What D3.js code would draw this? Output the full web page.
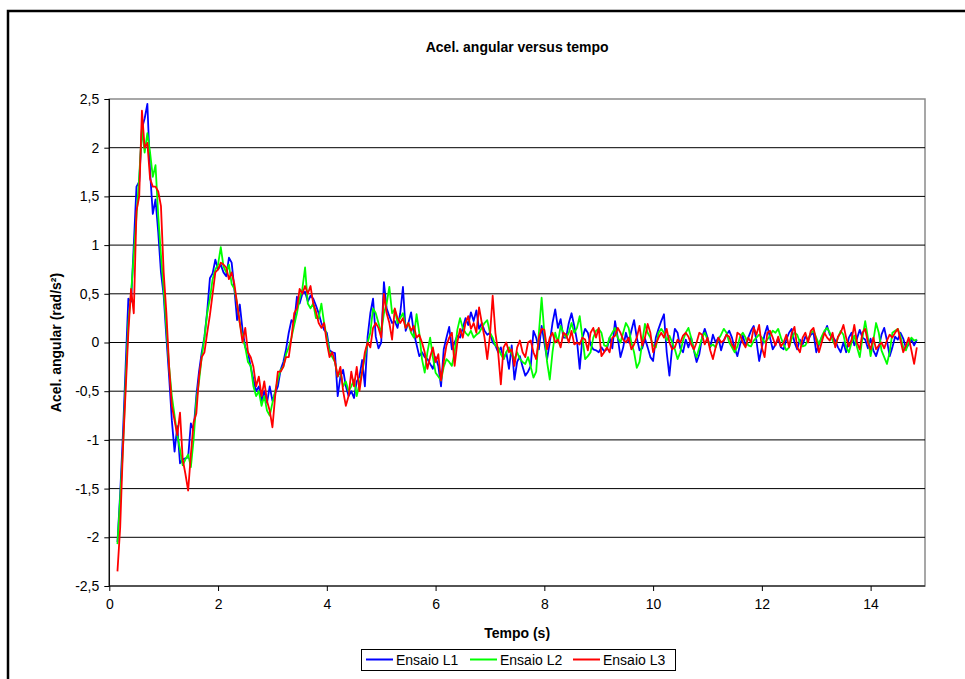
<!DOCTYPE html>
<html><head><meta charset="utf-8">
<script src="https://cdn.jsdelivr.net/npm/d3@7"></script>
<style>
body{margin:0;background:#fff}
text{font-family:Arial,"Liberation Sans",sans-serif;fill:#000}
</style>
</head><body>
<svg id="chart" width="965" height="679"></svg>
<script>
const chartTitle = "Acel. angular versus tempo";
const xAxisLabel = "Tempo (s)";
const yAxisLabel = "Acel. angular (rad/s²)";
const seriesNames = ["Ensaio L1", "Ensaio L2", "Ensaio L3"];
const xTickValues = [0, 2, 4, 6, 8, 10, 12, 14];
const yTickValues = [-2.5, -2, -1.5, -1, -0.5, 0, 0.5, 1, 1.5, 2, 2.5];
const yTickLabels = ["-2,5", "-2", "-1,5", "-1", "-0,5", "0", "0,5", "1", "1,5", "2", "2,5"];
const startTime = 0.15;   // s, first sample
const timeStep = 0.05;    // s, sampling interval

const ensaioL1 = [
-2.05,-1.55,-0.95,-0.25,0.45,0.42,1.0,1.6,1.65,2.2,2.3,2.45,1.75,1.32,1.47,1.13,0.72,0.48,0.05,-0.35,
-0.8,-1.12,-0.86,-1.24,-1.2,-1.19,-1.18,-0.83,-0.9,-0.55,-0.3,-0.1,0.06,0.32,0.66,0.71,0.85,0.75,0.8,0.72,
0.68,0.87,0.82,0.55,0.23,0.39,0.13,-0.05,-0.1,-0.25,-0.38,-0.5,-0.45,-0.6,-0.5,-0.62,-0.45,-0.6,-0.52,-0.45,
-0.28,-0.2,-0.07,0.1,0.23,0.2,0.47,0.4,0.5,0.52,0.42,0.48,0.45,0.38,0.3,0.2,0.13,0.1,-0.08,-0.1,
-0.11,-0.55,-0.35,-0.28,-0.45,-0.55,-0.5,-0.57,-0.4,-0.35,-0.18,-0.45,0.06,0.3,0.45,0.06,-0.06,0.0,0.62,0.35,
0.27,0.2,0.22,0.15,0.3,0.57,0.12,0.2,0.31,0.1,-0.02,-0.14,-0.1,-0.15,-0.17,-0.22,-0.27,-0.15,-0.24,-0.45,
-0.07,0.05,0.16,-0.07,0.0,0.07,0.05,0.15,0.25,0.18,0.31,0.22,0.33,0.14,0.2,0.12,0.08,0.1,0.0,-0.03,
-0.1,-0.05,-0.17,-0.1,-0.27,-0.03,-0.38,-0.2,-0.14,-0.25,-0.34,-0.3,-0.24,0.12,0.05,-0.07,0.17,0.0,-0.17,0.0,
0.2,0.34,0.15,0.24,0.05,0.05,0.2,0.3,0.17,0.02,-0.27,0.05,0.14,0.1,-0.02,-0.07,-0.08,-0.1,-0.05,-0.09,
-0.07,0.05,-0.06,0.22,0.05,-0.15,-0.05,0.1,0.0,0.12,0.23,0.05,-0.08,-0.06,0.04,-0.05,-0.15,-0.19,0.05,0.14,
0.22,0.29,-0.1,-0.34,-0.05,0.14,0.1,-0.06,-0.1,0.03,-0.05,0.05,-0.08,-0.2,-0.12,0.05,0.14,0.05,-0.05,0.08,
0.0,0.05,-0.08,0.02,0.08,0.12,0.05,-0.06,-0.14,-0.02,0.07,-0.03,0.05,0.12,0.17,0.02,-0.19,-0.05,0.08,0.17,
0.05,-0.07,-0.02,0.04,-0.05,-0.07,0.03,0.1,0.14,0.0,-0.07,0.03,-0.02,0.06,0.03,0.08,0.1,-0.1,-0.02,0.05,
0.1,0.17,0.08,0.06,0.02,-0.05,-0.1,0.0,-0.1,0.05,0.1,-0.03,0.04,0.13,0.05,0.03,-0.06,0.04,-0.08,-0.14,
-0.05,0.08,0.15,0.02,-0.14,-0.05,0.06,0.03,0.1,0.04,-0.06,-0.02,0.03,-0.03,0.03
];

const ensaioL2 = [
-2.07,-1.6,-1.1,-0.4,0.2,0.5,0.9,1.3,1.7,2.2,1.95,2.15,1.95,1.7,1.82,1.3,0.9,0.55,0.15,-0.25,
-0.55,-0.75,-0.95,-1.1,-1.26,-1.2,-1.15,-1.28,-1.0,-0.6,-0.4,-0.15,0.05,0.3,0.45,0.65,0.75,0.8,0.98,0.78,
0.72,0.8,0.6,0.55,0.4,0.2,0.05,-0.05,-0.2,-0.24,-0.45,-0.55,-0.5,-0.65,-0.55,-0.7,-0.75,-0.62,-0.5,-0.38,
-0.28,-0.25,-0.12,-0.05,0.05,0.18,0.3,0.45,0.55,0.77,0.4,0.35,0.4,0.25,0.25,0.4,0.2,0.05,-0.1,-0.15,
-0.2,-0.35,-0.3,-0.45,-0.4,-0.5,-0.45,-0.38,-0.55,-0.42,-0.3,-0.15,0.0,0.1,0.35,0.3,0.2,0.1,0.3,0.4,
0.57,0.3,0.34,0.2,0.25,0.3,0.15,0.2,0.1,0.05,0.29,0.1,-0.17,-0.31,-0.1,0.05,-0.15,-0.31,-0.35,-0.39,
-0.25,-0.17,-0.2,-0.24,-0.1,0.13,0.25,0.15,0.1,0.07,0.12,0.05,0.08,0.1,0.15,0.2,0.23,0.1,0.05,-0.03,
-0.05,-0.12,-0.17,-0.1,-0.05,-0.12,-0.17,-0.1,-0.17,-0.2,-0.22,-0.15,-0.25,-0.36,-0.3,0.1,0.46,0.1,-0.2,-0.38,
-0.1,0.1,0.0,0.17,0.1,0.05,0.1,0.2,0.1,0.15,0.27,0.05,-0.17,-0.14,-0.1,0.05,0.12,0.14,0.1,-0.03,
-0.04,0.05,0.1,0.15,0.05,0.0,0.1,0.2,0.15,0.0,-0.1,-0.26,-0.2,0.0,0.19,0.1,0.05,-0.03,-0.05,0.1,
0.14,0.1,0.02,0.07,0.0,-0.07,-0.17,-0.1,0.02,0.1,0.15,0.05,-0.08,-0.15,-0.05,0.05,0.1,0.03,-0.04,-0.02,
-0.05,0.03,0.08,0.14,0.1,0.0,-0.05,-0.1,-0.04,0.06,0.1,0.05,-0.03,-0.04,0.02,0.05,0.08,0.05,0.0,0.03,
0.07,0.12,0.1,0.14,0.05,-0.02,-0.08,-0.05,0.04,0.1,0.08,0.0,-0.04,-0.03,0.03,0.1,0.12,0.05,-0.02,0.06,
0.12,0.15,0.1,0.02,-0.03,0.05,0.12,0.08,-0.05,-0.1,0.0,0.07,-0.05,-0.15,0.05,0.22,0.05,-0.14,0.02,0.2,
0.1,-0.08,-0.15,-0.22,-0.1,0.1,0.12,0.14,0.06,-0.05,-0.08,0.0,0.05,0.02,0.03
];

const ensaioL3 = [
-2.35,-1.9,-1.1,-0.5,0.1,0.55,0.3,1.35,1.5,2.38,2.0,2.05,1.68,1.6,1.6,1.55,1.4,0.72,0.3,-0.25,
-0.65,-0.8,-0.95,-0.72,-1.2,-1.35,-1.52,-1.15,-0.82,-0.73,-0.35,-0.15,-0.1,0.1,0.28,0.5,0.72,0.75,0.82,0.8,
0.77,0.65,0.72,0.6,0.4,0.2,0.0,0.15,-0.1,-0.15,-0.25,-0.45,-0.35,-0.55,-0.4,-0.6,-0.7,-0.87,-0.55,-0.3,
-0.3,-0.25,-0.15,-0.15,0.05,0.3,0.35,0.55,0.5,0.58,0.5,0.58,0.4,0.32,0.2,0.15,0.2,0.0,-0.15,-0.1,
-0.2,-0.35,-0.25,-0.5,-0.65,-0.55,-0.3,-0.45,-0.25,-0.5,-0.3,-0.1,0.0,-0.05,0.15,0.2,0.15,0.05,0.5,0.3,
0.2,0.03,0.35,0.25,0.2,0.25,0.15,0.2,0.12,0.17,0.05,0.08,0.0,-0.1,-0.27,-0.15,-0.05,-0.2,-0.12,-0.39,
-0.2,-0.03,0.05,0.1,-0.24,0.0,0.14,0.05,0.2,0.27,0.14,0.2,0.1,0.36,0.2,0.05,-0.17,0.07,0.48,0.1,
-0.1,-0.43,-0.05,0.0,-0.1,-0.07,-0.24,-0.05,0.02,-0.1,-0.15,0.0,0.02,-0.1,-0.17,0.05,0.14,0.13,-0.07,0.05,
0.1,0.0,0.03,-0.05,0.1,0.08,0.0,0.12,-0.02,0.0,-0.02,0.05,0.03,-0.08,0.1,0.15,0.05,0.15,-0.14,-0.1,
-0.05,-0.1,0.05,0.07,0.15,0.1,0.03,0.0,0.05,-0.07,-0.02,0.05,0.17,-0.03,0.05,0.19,0.1,-0.1,-0.02,0.05,
0.1,0.05,0.14,0.0,-0.07,-0.05,0.03,0.0,0.07,0.1,0.06,-0.02,-0.07,0.0,0.1,0.08,-0.02,0.05,-0.08,-0.17,
-0.05,0.05,0.0,0.02,0.08,0.06,-0.02,-0.07,0.1,0.08,0.0,-0.05,0.05,0.0,0.15,0.08,0.18,-0.05,-0.15,0.1,
0.12,0.05,-0.03,0.06,-0.04,0.0,0.08,-0.05,0.1,0.16,-0.05,-0.1,0.05,0.1,0.0,0.12,0.15,0.02,-0.1,0.0,
0.1,0.05,0.02,0.1,-0.05,0.06,0.1,0.18,0.05,-0.04,0.03,0.18,0.0,-0.07,0.1,0.14,0.0,-0.07,0.05,-0.07,
-0.03,0.0,-0.06,0.02,0.08,0.05,0.1,0.14,0.02,-0.1,-0.03,0.05,-0.08,-0.22,-0.05
];

const seriesValues = [ensaioL1, ensaioL2, ensaioL3];
const seriesColors = ["#0000FF", "#00FF00", "#FF0000"];

const svg = d3.select("#chart");
svg.append("rect").attr("width", 965).attr("height", 679).attr("fill", "#fff");
// outer chart border
svg.append("rect").attr("x", 8).attr("y", 11).attr("width", 1000).attr("height", 1000)
  .attr("fill", "none").attr("stroke", "#000").attr("stroke-width", 2.5);

const plot = {left: 109.3, right: 925, top: 99, bottom: 586};
const x = d3.scaleLinear().domain([0, 15]).range([plot.left, plot.right]);
const y = d3.scaleLinear().domain([-2.5, 2.5]).range([plot.bottom, plot.top]);

// plot area border (grey)
svg.append("rect").attr("x", plot.left).attr("y", plot.top)
  .attr("width", plot.right - plot.left).attr("height", plot.bottom - plot.top)
  .attr("fill", "#fff").attr("stroke", "#8a8a8a").attr("stroke-width", 1.5);

// gridlines
svg.append("g").selectAll("line").data(yTickValues.filter(v => v > -2.5 && v < 2.5)).join("line")
  .attr("x1", plot.left).attr("x2", plot.right)
  .attr("y1", d => y(d)).attr("y2", d => y(d))
  .attr("stroke", "#000").attr("stroke-width", 1);

// axes
const yAxis = d3.axisLeft(y).tickValues(yTickValues)
  .tickFormat((d, i) => yTickLabels[i]).tickSize(5).tickPadding(5);
const gy = svg.append("g").attr("transform", `translate(${plot.left},0)`).call(yAxis);
const xAxis = d3.axisBottom(x).tickValues(xTickValues).tickFormat(d => String(d))
  .tickSize(5).tickPadding(8);
const gx = svg.append("g").attr("transform", `translate(0,${plot.bottom})`).call(xAxis);
[gx, gy].forEach(g => {
  g.select(".domain").remove();
  g.selectAll(".tick line").attr("stroke", "#000");
  g.selectAll(".tick text").attr("font-size", 14).attr("font-family", "Arial, 'Liberation Sans', sans-serif").attr("fill", "#000");
});
svg.append("line").attr("x1", plot.left).attr("x2", plot.left).attr("y1", plot.top).attr("y2", plot.bottom)
  .attr("stroke", "#000").attr("stroke-width", 1.2);
svg.append("line").attr("x1", plot.left).attr("x2", plot.right).attr("y1", plot.bottom).attr("y2", plot.bottom)
  .attr("stroke", "#000").attr("stroke-width", 1.2);

// series lines
const line = d3.line().x((d, i) => x(startTime + i * timeStep)).y(d => y(d));
seriesValues.forEach((vals, k) => {
  svg.append("path").datum(vals).attr("d", line)
    .attr("fill", "none").attr("stroke", seriesColors[k]).attr("stroke-width", 1.8)
    .attr("stroke-linejoin", "round");
});

// titles
const cx = (plot.left + plot.right) / 2;
svg.append("text").attr("x", cx).attr("y", 52).attr("text-anchor", "middle")
  .attr("font-size", 14).attr("font-weight", "bold").text(chartTitle);
svg.append("text").attr("x", cx).attr("y", 638).attr("text-anchor", "middle")
  .attr("font-size", 14).attr("font-weight", "bold").text(xAxisLabel);
svg.append("text").attr("transform", `translate(61,${(plot.top + plot.bottom) / 2}) rotate(-90)`)
  .attr("text-anchor", "middle").attr("font-size", 14).attr("font-weight", "bold").text(yAxisLabel);

// legend
const lg = svg.append("g");
lg.append("rect").attr("x", 361.5).attr("y", 649.5).attr("width", 314).attr("height", 21)
  .attr("fill", "#fff").attr("stroke", "#000").attr("stroke-width", 1);
const legendX = [366, 470, 573];
seriesNames.forEach((name, k) => {
  lg.append("line").attr("x1", legendX[k]).attr("x2", legendX[k] + 27).attr("y1", 659.5).attr("y2", 659.5)
    .attr("stroke", seriesColors[k]).attr("stroke-width", 2);
  lg.append("text").attr("x", legendX[k] + 30).attr("y", 665).attr("font-size", 14).text(name);
});
</script>
</body></html>
